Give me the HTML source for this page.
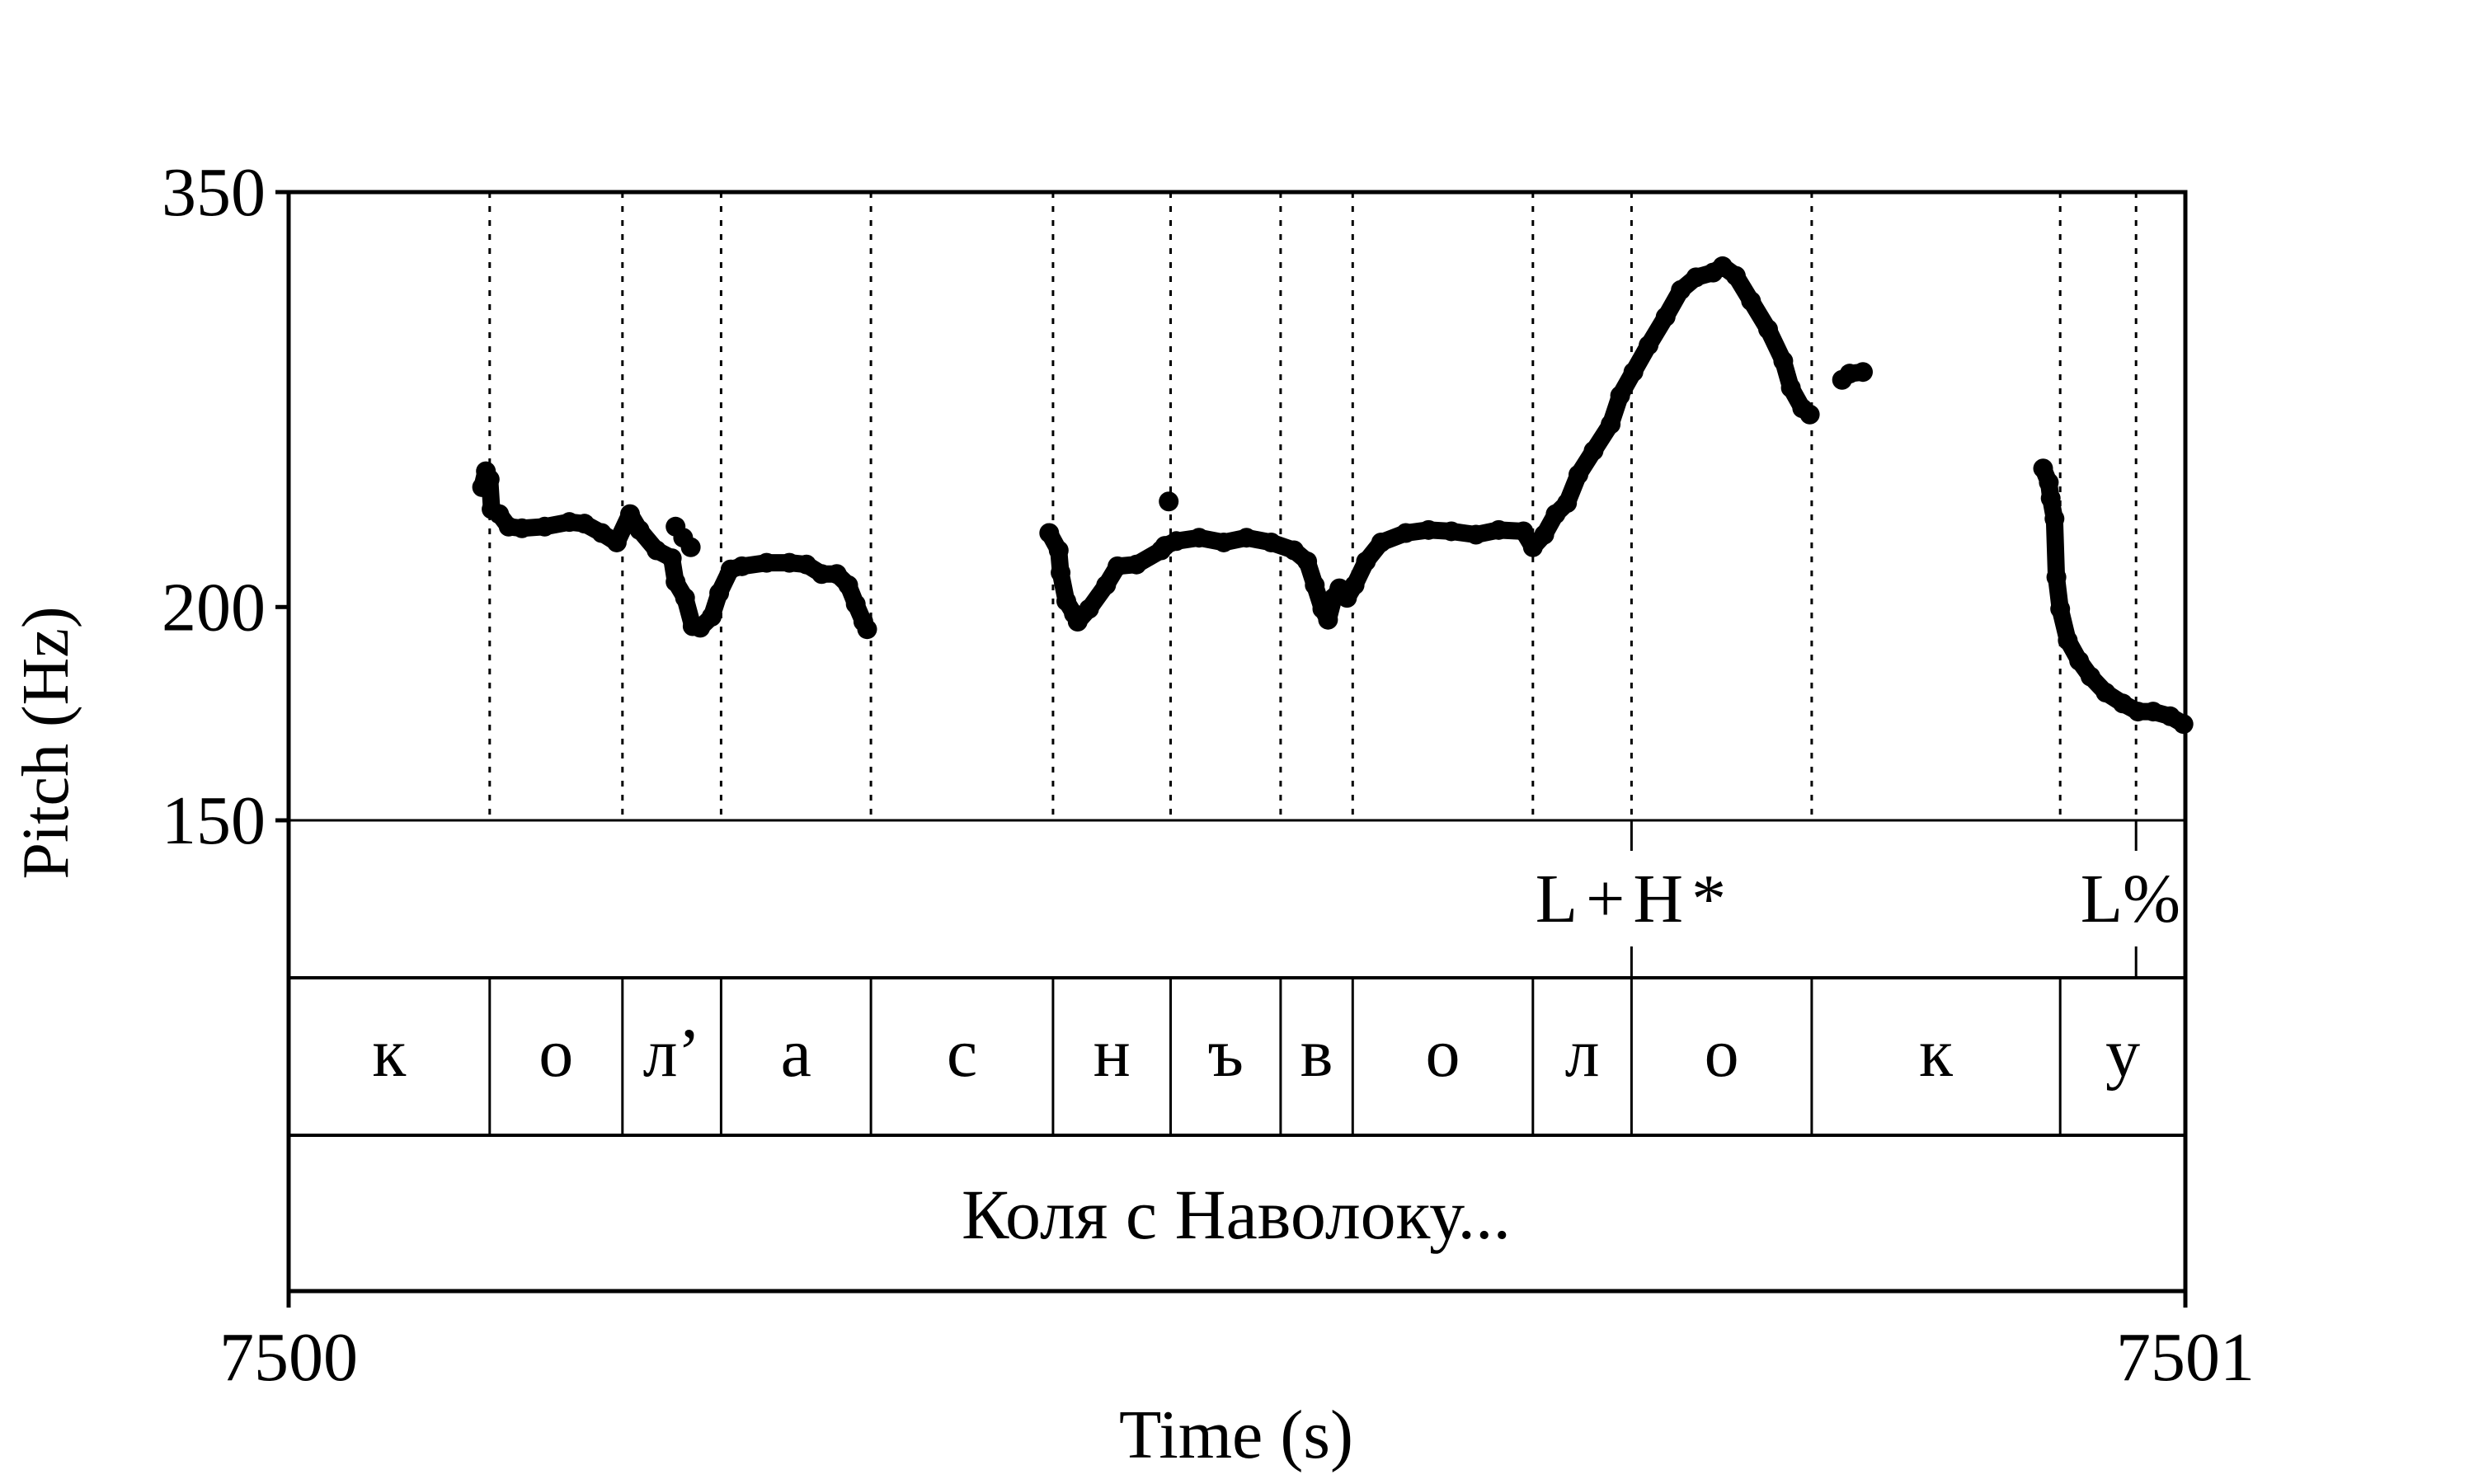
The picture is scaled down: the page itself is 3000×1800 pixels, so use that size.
<!DOCTYPE html>
<html><head><meta charset="utf-8"><style>
html,body{margin:0;padding:0;background:#fff;}
svg{display:block;font-family:"Liberation Serif","DejaVu Serif",serif;}
</style></head><body>
<svg id="chart" width="3000" height="1800" viewBox="0 0 3000 1800" xmlns="http://www.w3.org/2000/svg">
<g id="grid"></g>
<g id="tiers"></g>
<g id="marks"></g>
<g id="axes"></g>
<text transform="translate(82,901) rotate(-90)" text-anchor="middle" font-size="80">Pitch (Hz)</text>
<text x="1499" y="1768" text-anchor="middle" font-size="84">Time (s)</text>
</svg>
<script>
// data
const seg1T=[.102,.104,.106,.107,.111,.116,.123,.135,.148,.156,.165,.173,.180,.185,.194,.202,.204,.209,.213,.217,.223,.227,.233,.239,.252,.264,.273,.281,.289,.295,.299,.303,.305];
const seg1Hz=[235.1,240.2,237.6,228.2,226.7,222.9,222.4,222.9,224.3,223.8,221.0,218.2,226.7,221.9,215.9,213.6,206.9,202.5,194.9,194.5,197.4,203.8,210.4,211.3,212.3,212.3,211.8,209.1,209.1,206.0,200.8,196.1,194.1];
const seg2T=[.401,.406,.407,.410,.414,.416,.422,.431,.437,.447,.460,.462,.468,.480,.493,.505,.518,.530,.537,.541,.545,.548,.551,.554,.558,.562,.568,.576,.589,.601,.613,.626,.638,.651,.656,.662,.668,.674,.680,.688,.697,.702,.709,.717,.726,.734,.742,.751,.756,.763,.771,.780,.788,.792,.798,.802];
const seg2Hz=[221.0,215.9,209.5,201.6,198.2,196.1,199.5,206.0,211.3,211.8,215.9,217.2,218.6,219.6,218.2,219.6,218.2,215.9,212.7,206.0,199.5,196.6,202.5,205.1,202.5,206.0,212.7,218.2,221.0,221.9,221.5,220.5,221.9,221.5,216.8,220.5,226.7,230.1,239.1,246.9,255.9,266.0,274.6,284.7,295.8,306.7,312.0,314.0,316.7,312.6,302.2,290.9,278.7,268.8,261.5,259.3];
const seg3T=[.819,.823,.830];
const seg3Hz=[271.7,274.0,274.6];
const seg4T=[.925,.928,.929,.931,.932,.934,.938,.944,.950,.958,.967,.975,.983,.992,.999];
const seg4Hz=[241.1,236.6,231.6,225.3,208.2,199.5,191.2,186.0,182.1,178.2,175.6,173.7,173.7,172.6,170.8];
const outT=[.204,.208,.212,.464];
const outHz=[222.9,219.6,216.8,230.6];
const boundaries=[.106,.176,.228,.307,.403,.465,.523,.561,.656,.708,.803,.934];
const segLabels=["к","о","л’","а","с","н","ъ","в","о","л","о","к","у"];
const toneT=[.708,.974];
const toneLabels=["L+H*","L%"];
const yTicks=[350,200,150];
const xTickLabels=["7500","7501"];

const NS="http://www.w3.org/2000/svg";
const L=350,R=2650,TOP=233,P150=995,T1=1186,T2=1377,BOT=1566;
const x=t=>L+t*(R-L);
const y=f=>TOP+(Math.log(350)-Math.log(f))/Math.log(350/150)*(P150-TOP);
function mk(tag,attrs,parent,text){const e=document.createElementNS(NS,tag);for(const k in attrs)e.setAttribute(k,attrs[k]);if(text!=null)e.textContent=text;parent.appendChild(e);return e;}
const grid=document.getElementById('grid'),tiers=document.getElementById('tiers'),marks=document.getElementById('marks'),axes=document.getElementById('axes');

boundaries.concat([toneT[1]]).forEach(b=>{
  const e=mk('line',{x1:x(b),x2:x(b),y1:TOP,y2:P150,stroke:'#000','stroke-width':3,'stroke-dasharray':'7 10'},grid);
  
  
});
[P150,T1,T2].forEach(yy=>{const e=mk('line',{x1:L,x2:R,y1:yy,y2:yy,stroke:'#000','stroke-width':yy===P150?3:4},tiers);
  
  });
const edges=[0].concat(boundaries,[1]);
for(let i=0;i<segLabels.length;i++){
  if(i>0){const e=mk('line',{x1:x(edges[i]),x2:x(edges[i]),y1:T1,y2:T2,stroke:'#000','stroke-width':3},tiers);
    
    }
  const t=mk('text',{x:(x(edges[i])+x(edges[i+1]))/2,y:1305,'text-anchor':'middle','font-size':84},tiers,segLabels[i]);
  
  
}
toneT.forEach((tt,i)=>{
  const a=mk('line',{x1:x(tt),x2:x(tt),y1:P150,y2:1032,stroke:'#000','stroke-width':3},tiers);
  
  
  const b=mk('line',{x1:x(tt),x2:x(tt),y1:1148,y2:T1,stroke:'#000','stroke-width':3},tiers);
  
  
  const t=mk('text',{x:i===1?2644:x(tt)+4,y:1118,'text-anchor':i===1?'end':'middle','font-size':84,'letter-spacing':i===1?0:10},tiers,toneLabels[i]);
  
  
});
const ut=mk('text',{x:1499,y:1502,'text-anchor':'middle','font-size':86},tiers,"Коля с Наволоку...");



[[seg1T,seg1Hz],[seg2T,seg2Hz],[seg3T,seg3Hz],[seg4T,seg4Hz],[outT,outHz]].forEach((s,si)=>{
  if(si<4){const pts=s[0].map((t,i)=>x(t)+','+y(s[1][i])).join(' ');
    const p=mk('polyline',{points:pts,fill:'none',stroke:'#000','stroke-width':21,'stroke-linejoin':'round','stroke-linecap':'round'},marks);
    
    }
  s[0].forEach((t,i)=>{const c=mk('circle',{cx:x(t),cy:y(s[1][i]),r:12,fill:'#000'},marks);
    
    });
});

const fr=mk('path',{d:`M${L},${TOP} H${R} V${BOT} H${L} Z`,fill:'none',stroke:'#000','stroke-width':5},axes);


yTicks.forEach(v=>{
  const tk=mk('line',{x1:L-16,x2:L,y1:y(v),y2:y(v),stroke:'#000','stroke-width':5},axes);
  
  
  const t=mk('text',{x:L-28,y:y(v)+28,'text-anchor':'end','font-size':84},axes,String(v));
  
  
});
xTickLabels.forEach((lab,i)=>{
  const xx=i===0?L:R;
  const tk=mk('line',{x1:xx,x2:xx,y1:BOT,y2:BOT+20,stroke:'#000','stroke-width':5},axes);
  
  
  const t=mk('text',{x:xx,y:1674,'text-anchor':'middle','font-size':84},axes,lab);
  
  
});
</script>
</body></html>
